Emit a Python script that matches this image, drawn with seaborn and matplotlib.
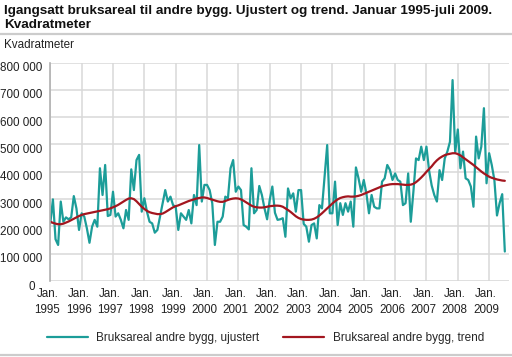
import numpy as np
import pandas as pd
import seaborn as sns
import matplotlib.pyplot as plt
import matplotlib.transforms as mtransforms
from matplotlib.lines import Line2D
from matplotlib.ticker import FuncFormatter, MultipleLocator

# monthly values, thousand square metres, Jan 1995 - Jul 2009
ujustert = [
    211, 299, 153, 132, 291, 217, 233, 226, 233, 311, 266, 187,  # 1995
    248, 236, 193, 140, 199, 224, 199, 413, 315, 425, 238, 242,  # 1996
    327, 236, 248, 224, 193, 260, 224, 409, 333, 443, 462, 254,  # 1997
    303, 254, 217, 211, 177, 187, 236, 285, 333, 291, 309, 278,  # 1998
    272, 187, 248, 236, 224, 260, 211, 315, 278, 498, 291, 352,  # 1999
    352, 333, 285, 132, 217, 217, 236, 309, 303, 413, 443, 327,  # 2000
    346, 333, 205, 199, 189, 413, 248, 260, 348, 315, 266, 226,  # 2001
    297, 346, 250, 224, 226, 230, 162, 339, 303, 321, 254, 333,  # 2002
    333, 209, 199, 144, 205, 211, 156, 278, 266, 382, 498, 248,  # 2003
    248, 364, 205, 285, 242, 285, 254, 291, 199, 416, 376, 327,  # 2004
    370, 321, 248, 315, 272, 266, 266, 364, 376, 425, 407, 370,  # 2005
    394, 370, 364, 278, 285, 394, 217, 327, 449, 443, 492, 443,  # 2006
    492, 405, 350, 315, 291, 406, 370, 449, 474, 510, 736, 470,  # 2007
    555, 413, 474, 376, 370, 346, 272, 529, 449, 492, 633, 358,  # 2008
    468, 425, 370, 240, 285, 318, 108,                           # 2009
]
trend = [
    217, 213, 210, 208, 208, 210, 214, 218, 223, 228, 233, 238,
    242, 245, 247, 249, 251, 253, 255, 257, 259, 261, 263, 266,
    270, 274, 279, 285, 291, 297, 302, 303, 300, 292, 282, 272,
    264, 257, 252, 249, 247, 245, 245, 247, 252, 258, 264, 270,
    274, 277, 281, 285, 289, 293, 296, 299, 302, 304, 306, 306,
    304, 301, 298, 295, 292, 290, 290, 293, 297, 300, 302, 303,
    302, 299, 294, 288, 282, 276, 272, 270, 269, 269, 270, 272,
    274, 275, 276, 276, 275, 272, 266, 260, 253, 245, 237, 231,
    227, 225, 224, 224, 225, 228, 233, 240, 248, 257, 266, 275,
    284, 292, 299, 304, 307, 309, 310, 309, 309, 310, 312, 315,
    319, 323, 327, 331, 335, 339, 343, 347, 350, 352, 354, 355,
    355, 355, 354, 353, 352, 352, 353, 356, 362, 370, 379, 389,
    400, 410, 420, 432, 442, 450, 456, 461, 464, 466, 468, 468,
    465, 460, 453, 446, 439, 432, 425, 417, 409, 401, 394, 388,
    382, 378, 375, 372, 370, 368, 367,
]
years = list(range(1995, 2010))
tick_labels = [f"Jan.\n{y}" for y in years]
series_names = ["Bruksareal andre bygg, ujustert", "Bruksareal andre bygg, trend"]

sns.set_style("white")
plt.rcParams["font.family"] = ["Liberation Sans", "DejaVu Sans"]

df = pd.DataFrame({
    "month": np.arange(len(ujustert)).tolist() * 2,
    "value": [v * 1000 for v in ujustert] + [v * 1000 for v in trend],
    "serie": [series_names[0]] * len(ujustert) + [series_names[1]] * len(trend),
})

W, H = 512, 357
fig = plt.figure(figsize=(W / 100, H / 100), dpi=100)
ax = fig.add_axes([50.3 / W, 76 / H, 458.7 / W, 218.4 / H])

palette = {series_names[0]: "#1c9d99", series_names[1]: "#a3161f"}
sns.lineplot(data=df, x="month", y="value", hue="serie", palette=palette,
             linewidth=1.6, ax=ax, legend=False)

ax.set_xlim(0, 175.6)
ax.set_ylim(0, 800000)
ax.set_xticks([12 * k for k in range(len(years))])
ax.set_xticklabels(tick_labels)
ax.xaxis.set_minor_locator(MultipleLocator(1))
ax.set_yticks(range(0, 800001, 100000))
ax.yaxis.set_major_formatter(FuncFormatter(lambda v, p: f"{int(v):,}".replace(",", " ")))
ax.set_xlabel("")
ax.set_ylabel("")

ax.grid(True, which="major", color="#d9d9d9", linewidth=1.1)
ax.set_axisbelow(True)
for s in ["top", "right", "bottom"]:
    ax.spines[s].set_visible(False)
ax.spines["left"].set_color("#b0b0b0")
ax.spines["left"].set_linewidth(1.2)

ax.tick_params(axis="x", which="major", length=0, labelsize=8.4, pad=5, colors="#222222")
ax.tick_params(axis="x", which="minor", direction="in", length=4, width=0.6, color="#c8c8c8")
ax.tick_params(axis="y", length=0, labelsize=8.4, pad=6, colors="#222222")
ax.axhline(0, color="#c8c8c8", linewidth=0.8)

off_y = mtransforms.ScaledTranslation(0, -4 / 100, fig.dpi_scale_trans)
off_zero = mtransforms.ScaledTranslation(-7 / 100, -4 / 100, fig.dpi_scale_trans)
for lab in ax.get_yticklabels():
    if lab.get_text() == "0":
        lab.set_transform(lab.get_transform() + off_zero)
    else:
        lab.set_transform(lab.get_transform() + off_y)
off_x = mtransforms.ScaledTranslation(-3 / 100, 0, fig.dpi_scale_trans)
for lab in ax.get_xticklabels():
    lab.set_transform(lab.get_transform() + off_x)
    lab.set_linespacing(1.4)

fig.text(4 / W, 1 - 5 / H, "Igangsatt bruksareal til andre bygg. Ujustert og trend. Januar 1995-juli 2009.\nKvadratmeter",
         ha="left", va="top", fontsize=9.7, fontweight="bold", linespacing=1.2, color="#111111")
fig.add_artist(Line2D([0, 1], [1 - 34 / H, 1 - 34 / H], color="#cccccc", linewidth=1.6))
fig.add_artist(Line2D([0, 1], [1 - 355 / H, 1 - 355 / H], color="#cccccc", linewidth=1.6))
fig.text(4 / W, 1 - 45 / H, "Kvadratmeter", ha="left", va="center", fontsize=8.4, color="#222222")

handles = [Line2D([], [], color=palette[n], linewidth=1.6) for n in series_names]
fig.legend(handles, series_names, loc="center", bbox_to_anchor=(0.518, 1 - 338 / H), ncol=2,
           frameon=False, fontsize=8.5, handlelength=3.5, handletextpad=0.7, columnspacing=2.0)

fig.savefig("out.png", dpi=100)
